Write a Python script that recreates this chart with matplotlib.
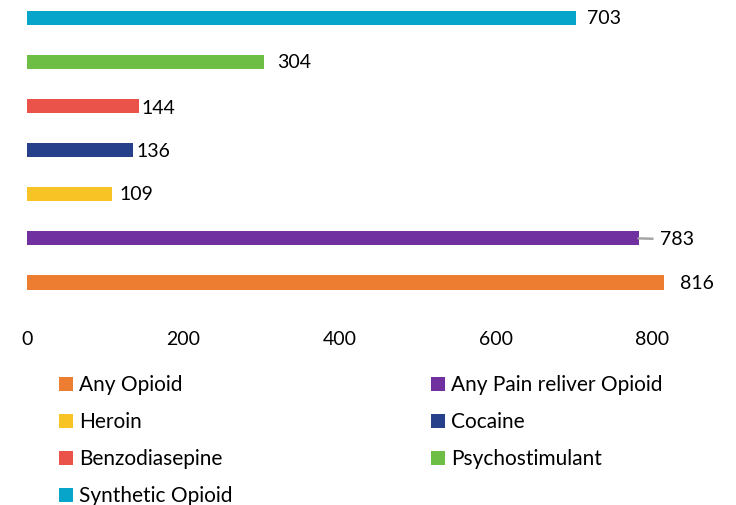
import matplotlib.pyplot as plt
from matplotlib.patches import Patch

# ── Data (bottom bar first) ───────────────────────────────────
categories = ["Any Opioid", "Any Pain reliver Opioid", "Heroin", "Cocaine",
              "Benzodiasepine", "Psychostimulant", "Synthetic Opioid"]
values = [816, 783, 109, 136, 144, 304, 703]
colours = ["#ED7D31", "#7030A0", "#F7C325", "#27408B",
           "#EA534A", "#6DBE45", "#06A5C9"]
x_ticks = [0, 200, 400, 600, 800]

# label offsets from bar end in pixels (dx, dy) - mimics the original layout
label_offsets = [(16, -1), (21, -1), (7, 0), (3, -1), (2, -3), (13, -1), (11, -1)]

plt.rcParams["font.family"] = ["Lato", "DejaVu Sans"]

fig = plt.figure(figsize=(7.36, 5.05), dpi=100)
ax = fig.add_axes([27 / 736, 1 - 309 / 505, 700 / 736, 309 / 505])

y = list(range(len(categories)))
ax.barh(y, values, height=0.32, color=colours)

px = 72 / 100  # pixels -> points
for i, v in enumerate(values):
    dx, dy = label_offsets[i]
    props = None
    if categories[i] == "Any Pain reliver Opioid":
        # grey leader line like the original
        props = dict(arrowstyle="-", color="#A6A6A6", lw=1.8,
                     shrinkA=3, shrinkB=0)
    ax.annotate(str(v), xy=(v, i), xytext=(dx * px, dy * px),
                textcoords="offset points", ha="left", va="center",
                fontsize=14, color="#000000", arrowprops=props)

ax.set_xlim(0, 700 / 0.781)
ax.set_ylim(-0.6, 6.4)
ax.set_xticks(x_ticks)
ax.set_yticks([])
ax.tick_params(axis="x", length=0, labelsize=14, pad=16)
for s in ax.spines.values():
    s.set_visible(False)

# legend: row-major order of original -> column-major for matplotlib
col1 = [0, 2, 4, 6]
col2 = [1, 3, 5]
order = col1 + col2
handles = [Patch(facecolor=colours[k], edgecolor="none") for k in order]
labels = [categories[k] for k in order]
fig.legend(handles, labels, ncol=2, loc="upper left",
           bbox_to_anchor=(51 / 736, 1 - 367 / 505), frameon=False,
           fontsize=15, handlelength=0.67, handleheight=0.67,
           handletextpad=0.29, labelspacing=0.81, columnspacing=9.5,
           borderaxespad=0)

plt.savefig("out.png", dpi=100)
